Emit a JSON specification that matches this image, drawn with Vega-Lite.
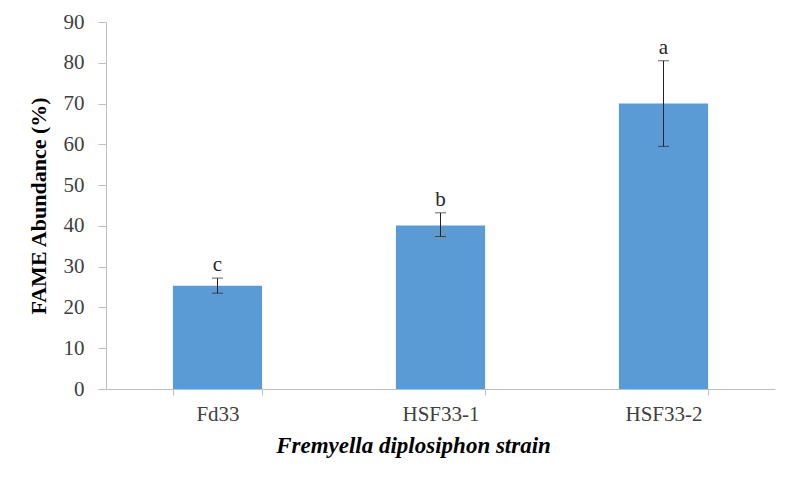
{
  "$schema": "https://vega.github.io/schema/vega-lite/v6.json",
  "width": 669,
  "height": 367,
  "autosize": {"type": "none"},
  "padding": {"left": 106, "top": 22, "right": 25, "bottom": 93},
  "background": "white",
  "config": {
    "view": {"stroke": null},
    "font": "Liberation Serif",
    "axis": {"grid": false, "domainColor": "#bfbfbf", "tickColor": "#bfbfbf", "labelColor": "#404040", "titleColor": "#000000", "labelFont": "Liberation Serif", "titleFont": "Liberation Serif"}
  },
  "data": {
    "values": [
      {"strain": "Fd33", "value": 25.3, "lower": 23.5, "upper": 27.2, "letter": "c"},
      {"strain": "HSF33-1", "value": 40.1, "lower": 37.4, "upper": 43.2, "letter": "b"},
      {"strain": "HSF33-2", "value": 70.0, "lower": 59.5, "upper": 80.5, "letter": "a"}
    ]
  },
  "encoding": {
    "x": {
      "field": "strain", "type": "nominal", "sort": null,
      "scale": {"paddingInner": 0.6, "paddingOuter": 0.3},
      "axis": {
        "title": "Fremyella diplosiphon strain",
        "titleFontSize": 23, "titleFontWeight": "bold", "titleFontStyle": "italic",
        "titleX": 307, "titlePadding": 10,
        "labelAngle": 0, "labelFontSize": 21, "labelPadding": 8,
        "tickBand": "extent", "tickSize": 6
      }
    }
  },
  "layer": [
    {
      "mark": {"type": "bar", "color": "#5b9bd5"},
      "encoding": {
        "y": {
          "field": "value", "type": "quantitative",
          "scale": {"domain": [0, 90]},
          "axis": {
            "title": "FAME Abundance (%)", "titleFontSize": 22, "titleFontWeight": "bold",
            "titlePadding": 13, "values": [0,10,20,30,40,50,60,70,80,90],
            "labelFontSize": 21, "labelPadding": 14, "tickSize": 8
          }
        }
      }
    },
    {
      "mark": {"type": "rule", "color": "#222222", "strokeWidth": 1},
      "encoding": {
        "y": {"field": "lower", "type": "quantitative"},
        "y2": {"field": "upper"}
      }
    },
    {
      "mark": {"type": "tick", "color": "#222222", "thickness": 1, "size": 11, "orient": "horizontal"},
      "encoding": {"y": {"field": "lower", "type": "quantitative"}}
    },
    {
      "mark": {"type": "tick", "color": "#222222", "thickness": 1, "size": 11, "orient": "horizontal"},
      "encoding": {"y": {"field": "upper", "type": "quantitative"}}
    },
    {
      "mark": {"type": "text", "baseline": "bottom", "dy": -3, "fontSize": 21, "color": "#262626"},
      "encoding": {
        "y": {"field": "upper", "type": "quantitative"},
        "text": {"field": "letter"}
      }
    }
  ]
}
